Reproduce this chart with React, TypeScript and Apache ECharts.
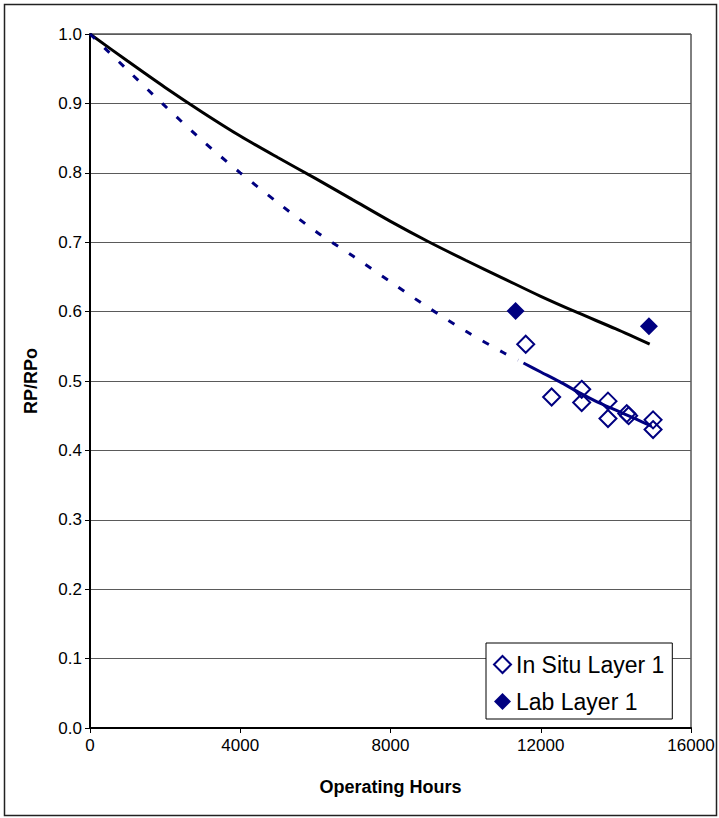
import React, { useEffect, useRef } from "react";
import * as echarts from "echarts";

// Measured ratios (RP/RPo) against operating hours
const inSituHours = [11600, 12290, 13090, 13090, 13790, 13790, 14290, 14340, 14990, 14990];
const inSituRatio = [0.553, 0.477, 0.488, 0.469, 0.471, 0.446, 0.453, 0.450, 0.444, 0.430];

const labHours = [11330, 14880];
const labRatio = [0.601, 0.579];

// Lab-based decay curve (solid black)
const labCurveHours = [0, 1000, 2000, 3000, 4000, 5000, 6000, 7000, 8000, 9000, 10000, 11000, 12000, 13000, 14000, 14900];
const labCurveRatio = [1.0, 0.961, 0.923, 0.887, 0.853, 0.822, 0.792, 0.761, 0.730, 0.701, 0.674, 0.648, 0.622, 0.598, 0.575, 0.553];

// In-situ trend, extrapolated part (dashed blue)
const trendHours = [0, 1000, 2000, 3000, 4000, 5000, 6000, 7000, 8000, 9000, 10000, 11000, 11400];
const trendRatio = [1.0, 0.948, 0.896, 0.846, 0.800, 0.757, 0.716, 0.680, 0.643, 0.606, 0.572, 0.541, 0.530];

// In-situ trend over the measured range (solid blue)
const fitHours = [11540, 12000, 12500, 13000, 13500, 14000, 14500, 14950];
const fitRatio = [0.526, 0.513, 0.499, 0.484, 0.470, 0.458, 0.446, 0.435];

const NAVY = "#000080";
const FONT = "'Liberation Sans', Arial, sans-serif";

const pairs = (xs: number[], ys: number[]) => xs.map((x, i) => [x, ys[i]]);

export default function App() {
  const ref = useRef<HTMLDivElement>(null);

  useEffect(() => {
    if (!ref.current) return;
    const chart = echarts.init(ref.current, null, { renderer: "svg" });
    chart.setOption({
      animation: false,
      backgroundColor: "#fff",
      textStyle: { fontFamily: FONT },
      grid: {
        left: 90,
        top: 34,
        right: 28,
        bottom: 90,
        containLabel: false,
        show: true,
        borderColor: "#000",
        borderWidth: 1,
        backgroundColor: "transparent",
      },
      graphic: [
        {
          type: "rect",
          shape: { x: 4.5, y: 4.5, width: 712, height: 811 },
          style: { fill: "transparent", stroke: "#222", lineWidth: 1.5 },
          silent: true,
          z: -1,
        },
      ],
      legend: {
        orient: "vertical",
        left: 486,
        top: 643,
        data: ["In Situ Layer 1", "Lab Layer 1"],
        itemWidth: 17,
        itemHeight: 17,
        itemGap: 14,
        padding: [10, 8, 6, 7],
        borderColor: "#000",
        borderWidth: 1,
        backgroundColor: "#fff",
        selectedMode: false,
        textStyle: { fontSize: 23, color: "#000", fontFamily: FONT },
      },
      xAxis: {
        type: "value",
        min: 0,
        max: 16000,
        interval: 4000,
        name: "Operating Hours",
        nameLocation: "middle",
        nameGap: 50,
        nameTextStyle: { fontSize: 18, fontWeight: "bold", color: "#000", fontFamily: FONT },
        axisLine: { show: true, onZero: false, lineStyle: { color: "#000", width: 2 } },
        axisTick: { show: true, length: 5, lineStyle: { color: "#000", width: 1 } },
        axisLabel: {
          fontSize: 17,
          color: "#000",
          margin: 9,
          fontFamily: FONT,
          formatter: (v: number) => String(v),
        },
        splitLine: { show: false },
      },
      yAxis: {
        type: "value",
        min: 0,
        max: 1,
        interval: 0.1,
        name: "RP/RPo",
        nameLocation: "middle",
        nameGap: 50,
        nameTextStyle: { fontSize: 18, fontWeight: "bold", color: "#000", fontFamily: FONT },
        axisLine: { show: true, lineStyle: { color: "#000", width: 2 } },
        axisTick: { show: true, length: 5, lineStyle: { color: "#000", width: 1 } },
        axisLabel: {
          fontSize: 17,
          color: "#000",
          margin: 8,
          fontFamily: FONT,
          formatter: (v: number) => v.toFixed(1),
        },
        splitLine: { show: true, lineStyle: { color: "#5a5a5a", width: 1 } },
      },
      series: [
        {
          name: "Lab curve",
          type: "line",
          data: pairs(labCurveHours, labCurveRatio),
          showSymbol: false,
          smooth: 0.3,
          lineStyle: { color: "#000", width: 3 },
          silent: true,
          z: 2,
        },
        {
          name: "In situ trend (extrapolated)",
          type: "line",
          data: pairs(trendHours, trendRatio),
          showSymbol: false,
          smooth: 0.3,
          lineStyle: { color: NAVY, width: 3, type: [7, 13] },
          silent: true,
          z: 2,
        },
        {
          name: "In situ trend",
          type: "line",
          data: pairs(fitHours, fitRatio),
          showSymbol: false,
          smooth: 0.3,
          lineStyle: { color: NAVY, width: 3 },
          silent: true,
          z: 2,
        },
        {
          name: "In Situ Layer 1",
          type: "scatter",
          data: pairs(inSituHours, inSituRatio),
          symbol: "diamond",
          symbolSize: 17,
          itemStyle: { color: "rgba(255,255,255,0)", borderColor: NAVY, borderWidth: 2, opacity: 1 },
          z: 3,
        },
        {
          name: "Lab Layer 1",
          type: "scatter",
          data: pairs(labHours, labRatio),
          symbol: "diamond",
          symbolSize: 18,
          itemStyle: { color: NAVY, opacity: 1 },
          z: 3,
        },
      ],
    });
    return () => chart.dispose();
  }, []);

  return (
    <div
      ref={ref}
      style={{ position: "fixed", left: 0, top: 0, width: 719, height: 818 }}
    />
  );
}
